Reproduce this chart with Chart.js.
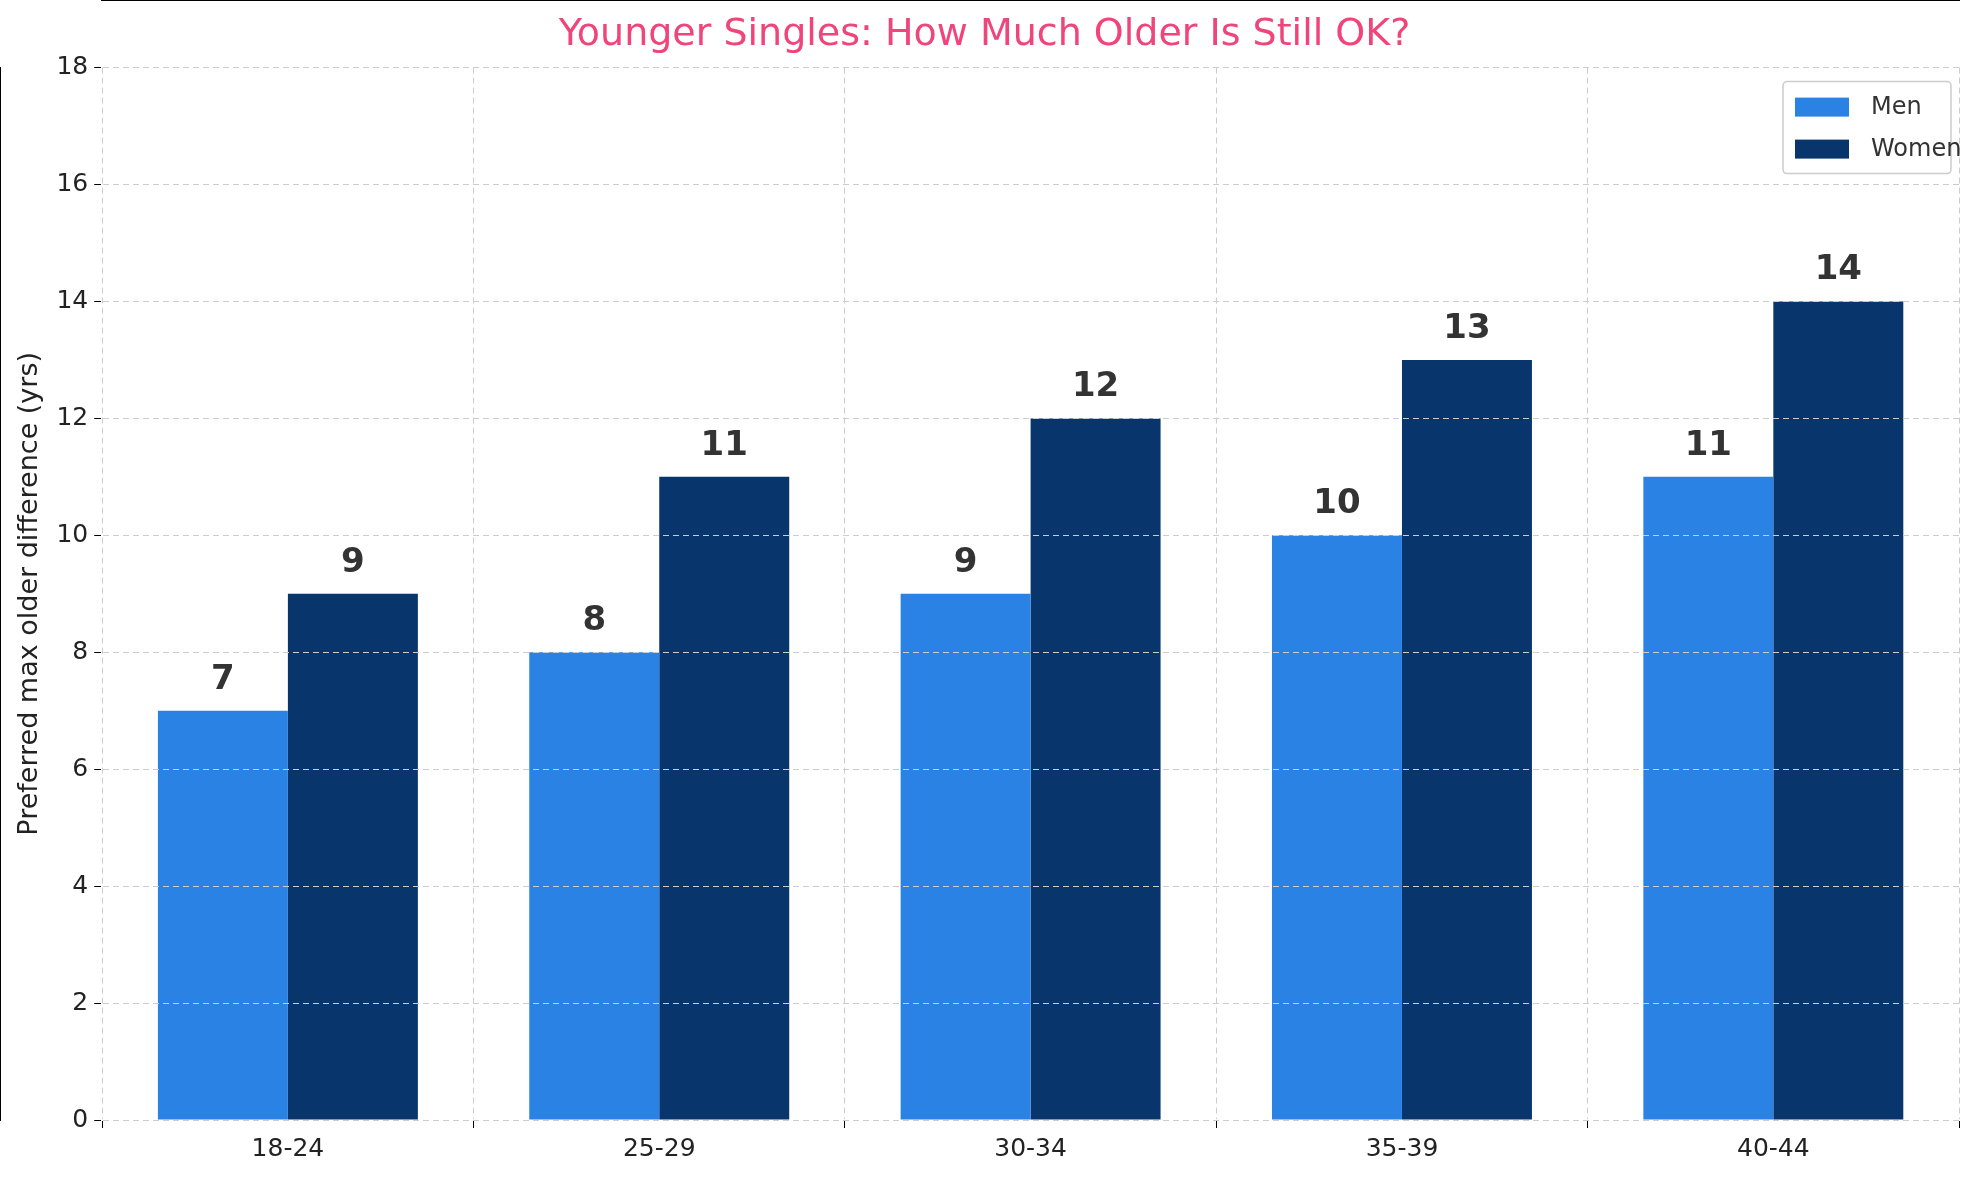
<!DOCTYPE html>
<html><head><meta charset="utf-8">
<script src="https://cdn.jsdelivr.net/npm/chart.js@4"></script>
<style>html,body{margin:0;background:#fff}#w{width:1979px;height:1180px}</style>
</head><body><div id="w"><canvas id="c"></canvas></div>
<script>
const categories=["18-24","25-29","30-34","35-39","40-44"];
const men=[7,8,9,10,11];
const women=[9,11,12,13,14];
const yTicks=[0,2,4,6,8,10,12,14,16,18];
const F="DejaVu Sans";
const labelsPlugin={id:"lbl",afterDatasetsDraw(ch){const ctx=ch.ctx;ctx.save();ctx.font="bold 34px "+F;ctx.fillStyle="#333";ctx.textAlign="center";ctx.textBaseline="bottom";
ch.data.datasets.forEach((d,i)=>{ch.getDatasetMeta(i).data.forEach((b,j)=>{ctx.fillText(d.data[j],b.x,b.y-14);});});ctx.restore();}};
const legendPlugin={id:"lg",afterDraw(ch){const ctx=ch.ctx,a=ch.chartArea;ctx.save();const w=168,h=92,x=a.right-w-8,y=a.top+14;
ctx.fillStyle="rgba(255,255,255,0.8)";ctx.strokeStyle="#ccc";ctx.lineWidth=1.5;ctx.beginPath();ctx.roundRect(x,y,w,h,4);ctx.fill();ctx.stroke();
ch.data.datasets.forEach((d,i)=>{ctx.fillStyle=d.backgroundColor;ctx.fillRect(x+12,y+16+i*42,54,19);ctx.fillStyle="#333";ctx.font="24px "+F;ctx.textBaseline="middle";ctx.fillText(d.label,x+88,y+26+i*42);});ctx.restore();}};
new Chart(document.getElementById("c"),{type:"bar",
data:{labels:categories,datasets:[{label:"Men",data:men,backgroundColor:"#2A82E4"},{label:"Women",data:women,backgroundColor:"#08356B"}]},
options:{responsive:true,maintainAspectRatio:false,animation:false,
layout:{padding:{left:10,right:20,top:0,bottom:10}},
datasets:{bar:{categoryPercentage:0.7,barPercentage:1}},
plugins:{legend:{display:false},tooltip:{enabled:false},
title:{display:true,text:"Younger Singles: How Much Older Is Still OK?",color:"#F0457A",font:{family:F,size:38,weight:"normal"},padding:{top:12,bottom:10}}},
scales:{x:{grid:{display:true,z:1,color:"#ccc",tickColor:"#000",tickLength:8,drawOnChartArea:true},border:{color:"#000",width:2,dash:[6,4]},
ticks:{color:"#222",font:{family:F,size:25},padding:6}},
y:{min:0,max:18,afterBuildTicks:s=>{s.ticks=yTicks.map(v=>({value:v}));},grid:{z:1,color:"#ccc",tickColor:"#000",tickLength:8},border:{color:"#000",width:2,dash:[6,4]},
ticks:{color:"#222",font:{family:F,size:25},padding:6},
title:{display:true,text:"Preferred max older difference (yrs)",color:"#222",font:{family:F,size:27}}}}},
plugins:[labelsPlugin,legendPlugin]});
</script></body></html>
